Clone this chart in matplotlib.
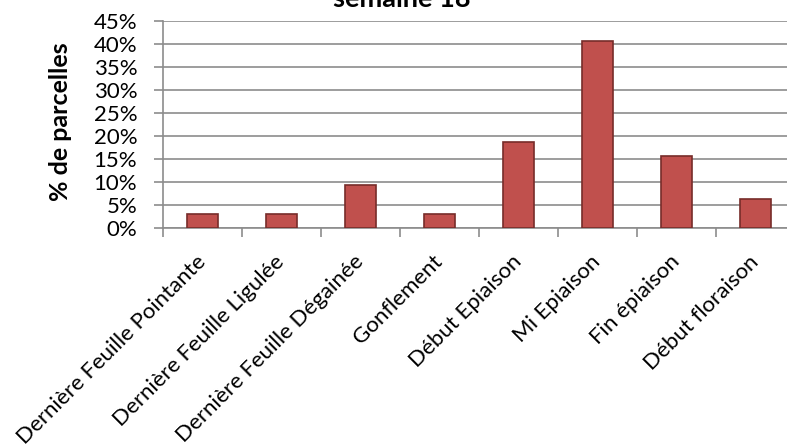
import matplotlib
matplotlib.use("Agg")
import matplotlib.pyplot as plt
from matplotlib.ticker import FixedLocator, NullFormatter, PercentFormatter

categories = ["Dernière Feuille Pointante", "Dernière Feuille Ligulée",
              "Dernière Feuille Dégainée", "Gonflement", "Début Epiaison",
              "Mi Epiaison", "Fin épiaison", "Début floraison"]
values = [3.125, 3.125, 9.375, 3.125, 18.75, 40.625, 15.625, 6.25]
title = "semaine 18"
ylabel = "% de parcelles"

plt.rcParams['font.family'] = ['Lato', 'DejaVu Sans']

fig = plt.figure(figsize=(7.87, 4.45), dpi=100)
ax = fig.add_axes([163/787, 1-228/445, 632/787, 207/445])

x = list(range(len(categories)))
ax.bar(x, values, width=0.405, color='#C0504D', edgecolor='#772C2A', linewidth=1.2, zorder=3)

ax.set_xlim(-0.5, len(categories) - 0.5)
ax.set_ylim(0, 45)
ax.set_yticks(range(0, 46, 5))
ax.yaxis.set_major_formatter(PercentFormatter(decimals=0))
ax.grid(axis='y', color='#8C8C8C', linewidth=1.2, zorder=0)
ax.set_axisbelow(True)

ax.xaxis.set_major_locator(FixedLocator([i - 0.5 for i in range(len(categories) + 1)]))
ax.xaxis.set_major_formatter(NullFormatter())
ax.xaxis.set_minor_locator(FixedLocator(x))
ax.set_xticklabels(categories, minor=True, rotation=45, ha='right', va='center',
                   rotation_mode='anchor', fontsize=16)
ax.tick_params(axis='x', which='minor', length=0, pad=22)
ax.tick_params(axis='x', which='major', length=6.5, color='#8C8C8C', width=1.2)
ax.tick_params(axis='y', length=6.5, color='#8C8C8C', width=1.2, labelsize=16, pad=12)

for s in ['top', 'right']:
    ax.spines[s].set_visible(False)
for s in ['left', 'bottom']:
    ax.spines[s].set_color('#8C8C8C')
    ax.spines[s].set_linewidth(1.2)

fig.text(61/787, 1 - 122/445, ylabel, rotation=90, ha='center', va='center',
         fontsize=18, fontweight='bold')
fig.text(402/787, 1 - 7/445, title, ha='center', va='baseline', fontsize=19.5, fontweight='bold')

fig.savefig("out.png", dpi=100)
